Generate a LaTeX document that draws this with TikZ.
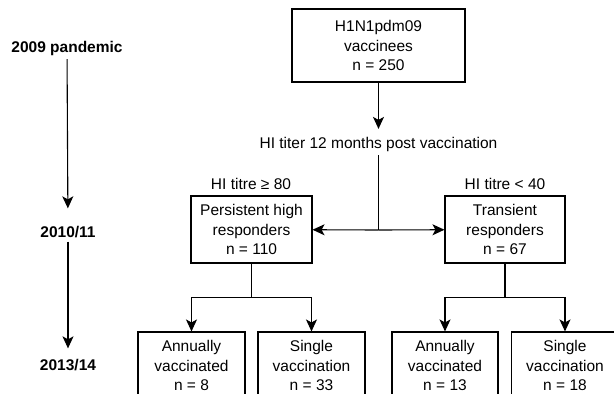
\documentclass[tikz,border=0pt]{standalone}
\usepackage{fontspec}
\setmainfont{Liberation Sans}
\usetikzlibrary{arrows.meta}
\tikzset{
	boxstyle/.style={draw=black, line width=1.1pt, align=center, inner sep=0pt, font=\fontsize{15.5}{19.5}\selectfont},
	labelstyle/.style={align=center, font=\fontsize{15.5}{19.5}\selectfont},
	yearstyle/.style={align=center, font=\fontsize{15.5}{19.5}\selectfont\bfseries},
	arrowstyle/.style={-{Stealth[length=12pt, width=11pt, inset=3pt]}}
}

\begin{document}
\begin{tikzpicture}[x=1pt, y=-1pt, line width=1.1pt]
	\useasboundingbox (0,0) rectangle (614,394);
	% timeline
	\node[yearstyle] (y1) at (67,48) {2009 pandemic};
	\node[yearstyle] (y2) at (68,232) {2010/11};
	\node[yearstyle] (y3) at (68,365) {2013/14};
	\draw[arrowstyle, shorten >=14pt] (y1)--(y2);
	\draw[arrowstyle, shorten >=7pt] (y2)--(y3);
	% flow
	\node[boxstyle, minimum width=173, minimum height=73] (v) at (378.5,45.5) {H1N1pdm09\\vaccinees\\n = 250};
	\node[labelstyle] (t) at (378.5,144) {HI titer 12 months post vaccination};
	\node[labelstyle] (hi) at (251,184) {HI titre ≥ 80};
	\node[labelstyle] (lo) at (505,184) {HI titre < 40};
	\node[boxstyle, minimum width=121, minimum height=67] (p) at (251.5,229.5) {Persistent high\\responders\\n = 110};
	\node[boxstyle, minimum width=120, minimum height=67] (q) at (505,229.5) {Transient\\responders\\n = 67};
	\node[boxstyle, minimum width=107, minimum height=67] (pa) at (191.5,365.5) {Annually\\vaccinated\\n = 8};
	\node[boxstyle, minimum width=107, minimum height=67] (ps) at (311.5,365.5) {Single\\vaccination\\n = 33};
	\node[boxstyle, minimum width=106, minimum height=67] (qa) at (445,365.5) {Annually\\vaccinated\\n = 13};
	\node[boxstyle, minimum width=107, minimum height=67] (qs) at (565,365.5) {Single\\vaccination\\n = 18};
	\coordinate (m) at (378.5,230);
	\draw[arrowstyle, shorten >=4pt] (v)--(t);
	\draw (t)--(m);
	\draw[arrowstyle] (m)--(p);
	\draw[arrowstyle] (m)--(q);
	\draw[arrowstyle] (p.south) -- ++(0,34) -| (pa);
	\draw[arrowstyle] (p.south) -- ++(0,34) -| (ps);
	\draw[arrowstyle] (q.south) -- ++(0,34) -| (qa);
	\draw[arrowstyle] (q.south) -- ++(0,34) -| (qs);
\end{tikzpicture}
\end{document}
